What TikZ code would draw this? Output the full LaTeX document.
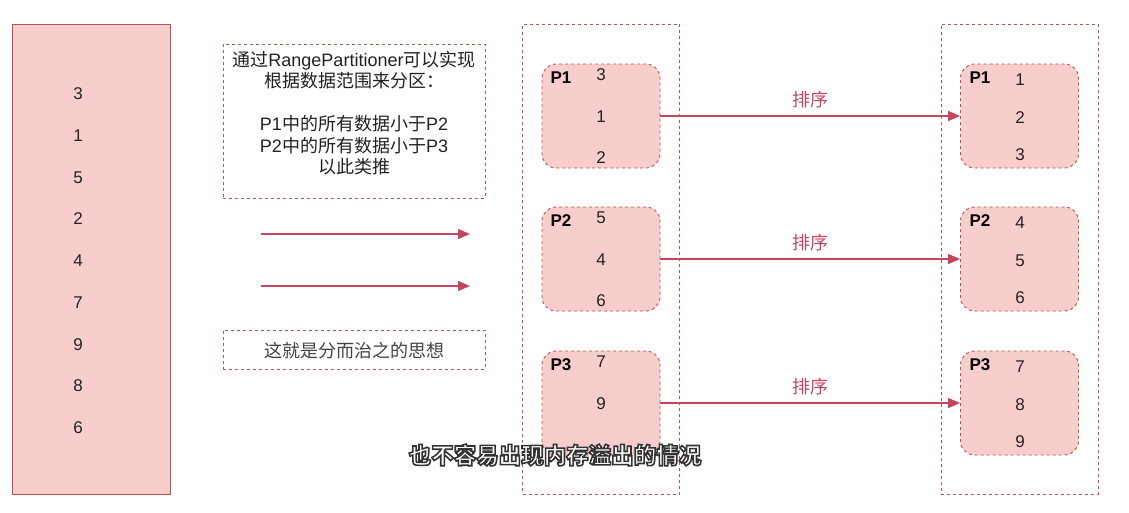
\documentclass[tikz,border=0pt]{standalone}
\usepackage{fontspec}
\setmainfont{Liberation Sans}
\newfontfamily\cjk{Noto Sans CJK SC}
\usetikzlibrary{arrows.meta}
\definecolor{pfill}{HTML}{F8CECC}
\definecolor{pline}{HTML}{B85450}
\definecolor{arr}{HTML}{C4455F}
\definecolor{txt}{HTML}{222222}
\definecolor{gtxt}{HTML}{444444}
\newcommand{\outlinedtext}[1]{\special{pdf:literal direct 2 Tr 1.6 w 0.2 0.2 0.2 RG}#1\special{pdf:literal direct 0 Tr}}
\tikzset{
 num/.style={font=\fontsize{17}{19}\selectfont, text=txt, inner sep=0},
 pbox/.style={draw=pline, fill=pfill, line width=0.9pt, dash pattern=on 3pt off 3pt, rounded corners=14pt, minimum width=118pt, minimum height=104pt, inner sep=0},
 cont/.style={draw=pline, line width=0.9pt, dash pattern=on 3pt off 3pt, minimum width=157pt, minimum height=470pt, inner sep=0},
 notebox/.style={draw=pline, line width=0.9pt, dash pattern=on 3pt off 3pt, minimum width=262pt, inner sep=0},
 plabel/.style={font=\fontsize{17}{19}\selectfont\bfseries, text=black, inner sep=0},
 flow/.style={draw=arr, line width=1.2pt, -{Triangle[length=12pt,width=10pt]}},
 sortlbl/.style={font=\cjk\fontsize{18}{20}\selectfont, text=arr, inner sep=0},
}
\begin{document}
\begin{tikzpicture}[x=1pt,y=-1pt]
\useasboundingbox (0,0) rectangle (1129,512);
\fill[white] (0,0) rectangle (1129,512);
% input data
\node[draw=pline, fill=pfill, line width=0.9pt, minimum width=158pt, minimum height=470pt, inner sep=0] (data) at (91,259) {};
\foreach \v/\y [count=\i] in {3/94,1/136,5/178,2/219,4/261,7/303,9/345,8/386,6/428}
  \node[num] (d\i) at (78,\y) {\v};
% note box
\node[notebox, minimum height=154pt] (note) at (354,121) {};
\node[inner sep=0, align=center, text=txt, font=\fontsize{18}{21.5}\selectfont] (notetext) at (354,113)
  {{\cjk 通过}RangePartitioner{\cjk 可以实现}\\
   {\cjk 根据数据范围来分区：}\\[21.5pt]
   P1{\cjk 中的所有数据小于}P2\\
   P2{\cjk 中的所有数据小于}P3\\
   {\cjk 以此类推}};
% arrows
\coordinate (a1s) at (261,234); \coordinate (a1e) at (470,234);
\coordinate (a2s) at (261,286); \coordinate (a2e) at (470,286);
\draw[flow] (a1s) -- (a1e);
\draw[flow] (a2s) -- (a2e);
% idea box
\node[notebox, minimum height=39pt] (idea) at (354,349.5) {};
\node[inner sep=0, text=gtxt, font=\cjk\fontsize{18}{20}\selectfont] (ideatext) at (354,351) {这就是分而治之的思想};
% containers
\node[cont] (mid) at (601,259) {};
\node[cont] (right) at (1019.5,259) {};
% middle partitions (third value of P3 is hidden by the subtitle)
\foreach \n/\yc/\a/\b/\c in {1/116/3/1/2, 2/259/5/4/6, 3/403/7/9/{}}{
  \node[pbox] (m\n) at (601,\yc) {};
  \node[plabel] (ml\n) at (561,\yc-38) {P\n};
  \node[num] (ma\n) at (601,\yc-41) {\a};
  \node[num] (mb\n) at (601,\yc+1) {\b};
  \node[num] (mc\n) at (601,\yc+42) {\c};
}
% right partitions
\foreach \n/\yc/\a/\b/\c in {1/116/1/2/3, 2/259/4/5/6, 3/403/7/8/9}{
  \node[pbox] (r\n) at (1019.5,\yc) {};
  \node[plabel] (rl\n) at (980,\yc-38) {P\n};
  \node[num] (ra\n) at (1020,\yc-36) {\a};
  \node[num] (rb\n) at (1020,\yc+2) {\b};
  \node[num] (rc\n) at (1020,\yc+39) {\c};
}
% sort arrows
\foreach \n in {1,2,3}{
  \draw[flow] (m\n.east) -- node[sortlbl, above=7pt] (s\n) {排序} (r\n.west);
}
% subtitle
\node[inner sep=0, font=\cjk\bfseries\fontsize{22.5}{26}\selectfont, text=white] (sub) at (555,455)
  {\outlinedtext{也不容易出现内存溢出的情况}};
\end{tikzpicture}
\end{document}
